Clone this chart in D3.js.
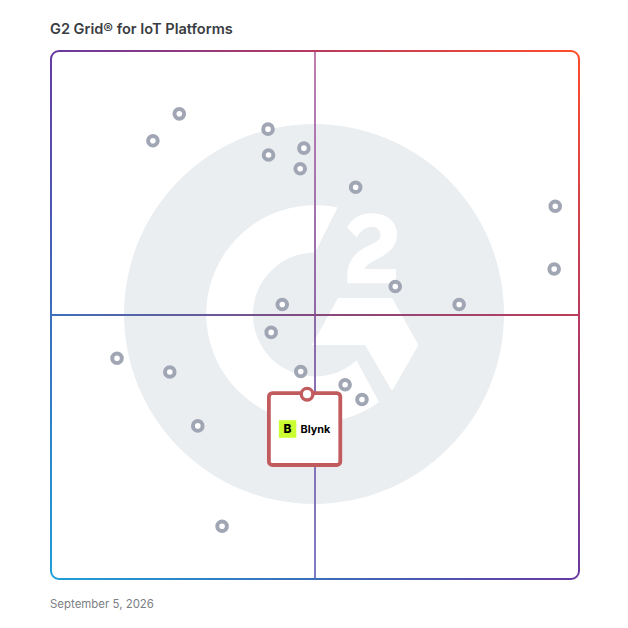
<!DOCTYPE html>
<html>
<head>
<meta charset="utf-8">
<script src="https://cdn.jsdelivr.net/npm/d3@7"></script>
<style>
html,body{margin:0;padding:0;background:#fff}
svg{display:block}
text{font-family:Inter,"Noto Sans",sans-serif}
</style>
</head>
<body>
<svg id="c" width="628" height="628"></svg>
<script>
const title = "G2 Grid® for IoT Platforms";
const dateLabel = "September 5, 2026";
const vendorName = "Blynk";
const vendorSatisfaction = [24.3,19.3,41.1,41.2,47.9,47.2,57.7,95.5,95.3,65.2,77.3,43.8,41.7,12.5,22.5,47.3,55.7,58.9,27.8,32.4];
const vendorPresence =     [88.1,83.0,85.2,80.3,81.6,77.7,74.2,70.6,58.7,55.4,52.0,52.0,46.7,41.8,39.2,39.3,36.8,34.0,29.0,10.0];
const featuredSatisfaction = [48.5];
const featuredPresence = [35.0];

const svg = d3.select("#c");
const x = d3.scaleLinear().domain([0,100]).range([51,579]);
const y = d3.scaleLinear().domain([0,100]).range([579,51]);

const defs = svg.append("defs");
const gFrame = defs.append("linearGradient").attr("id","frame").attr("gradientUnits","userSpaceOnUse")
  .attr("x1",x(0)).attr("y1",y(0)).attr("x2",x(100)).attr("y2",y(100));
[[0,"#1e9fd8"],[0.27,"#3d6ab8"],[0.5,"#683aa1"],[0.75,"#b83a5f"],[1,"#ff4d2a"]]
  .forEach(([o,c])=>gFrame.append("stop").attr("offset",o).attr("stop-color",c));
const gV = defs.append("linearGradient").attr("id","vline").attr("gradientUnits","userSpaceOnUse")
  .attr("x1",0).attr("y1",y(100)).attr("x2",0).attr("y2",y(0));
[[0,"#bf7fb0"],[0.5,"#8e6aa8"],[1,"#7f7cc4"]]
  .forEach(([o,c])=>gV.append("stop").attr("offset",o).attr("stop-color",c));
const gH = defs.append("linearGradient").attr("id","hline").attr("gradientUnits","userSpaceOnUse")
  .attr("x1",x(0)).attr("y1",0).attr("x2",x(100)).attr("y2",0);
[[0,"#3f70bc"],[0.5,"#85497f"],[1,"#bc3d58"]]
  .forEach(([o,c])=>gH.append("stop").attr("offset",o).attr("stop-color",c));

// watermark
const wm = svg.append("g");
wm.append("circle").attr("cx",314).attr("cy",314).attr("r",190).attr("fill","#ebeef1");
wm.append("path").attr("fill","#fff").attr("d",
 "M379 402 A108.8 108.8 0 1 1 337.5 207.5 L315 252.5 A62 62 0 1 0 356.5 360.5 Z");
wm.append("path").attr("fill","#fff").attr("d","M338 298 L392 298 L418.5 345 L392 391 L365 345 L312 345 Z");
wm.append("path").attr("fill","#fff").attr("d",
 "M347.3 227.7 C351 219 360 213.3 372 213.3 C387 213.3 397 222 397 234 C397 246 390 252 380 257.5 L372 262 C368 264 365.5 266 364.3 269 L396 269 L396 283.3 L347.3 283.3 L347.3 276 C347.3 262 354 253 366 247 L373 243.5 C378 241 380.5 239 380.5 235 C380.5 230 377 226.7 372 226.7 C366 226.7 361 230 356.7 237.3 Z");

// quadrant lines
svg.append("line").attr("x1",x(50)).attr("x2",x(50)).attr("y1",y(100)).attr("y2",y(0))
  .attr("stroke","url(#vline)").attr("stroke-width",2);
svg.append("line").attr("x1",x(0)).attr("x2",x(100)).attr("y1",y(50)).attr("y2",y(50))
  .attr("stroke","url(#hline)").attr("stroke-width",2);
// frame
svg.append("rect").attr("x",x(0)).attr("y",y(100)).attr("width",x(100)-x(0)).attr("height",y(0)-y(100))
  .attr("rx",8).attr("fill","none").attr("stroke","url(#frame)").attr("stroke-width",2);

// points
svg.append("g").selectAll("circle").data(vendorSatisfaction).join("circle")
  .attr("cx",d=>x(d)).attr("cy",(d,i)=>y(vendorPresence[i])).attr("r",4.8)
  .attr("fill","#fff").attr("stroke","#a1a6b4").attr("stroke-width",4);

// featured card
const fx = x(featuredSatisfaction[0]), fy = y(featuredPresence[0]);
const card = svg.append("g");
card.append("rect").attr("x",fx-38.2).attr("y",fy-1.1).attr("width",71.4).attr("height",71.9)
  .attr("rx",3.5).attr("fill","#fff").attr("stroke","#c15b5e").attr("stroke-width",3.8);
card.append("circle").attr("cx",fx).attr("cy",fy).attr("r",5.8)
  .attr("fill","#fff").attr("stroke","#c15b5e").attr("stroke-width",3.4);
card.append("rect").attr("x",fx-28.2).attr("y",fy+26).attr("width",17.4).attr("height",17.6).attr("fill","#ccff33");
card.append("text").attr("x",fx-19.5).attr("y",fy+39).attr("text-anchor","middle")
  .attr("font-size",12).attr("font-weight",800).attr("fill","#000").text("B");
card.append("text").attr("x",fx-6.5).attr("y",fy+39)
  .attr("font-size",10.8).attr("font-weight",700).attr("fill","#000").text(vendorName);

// texts
svg.append("text").attr("x",50).attr("y",34).attr("font-size",14.55).attr("font-weight",600)
  .attr("fill","#3a3d42").text(title);
svg.append("text").attr("x",50).attr("y",608).attr("font-size",11.45).attr("fill","#7c7f85").text(dateLabel);
</script>
</body>
</html>
